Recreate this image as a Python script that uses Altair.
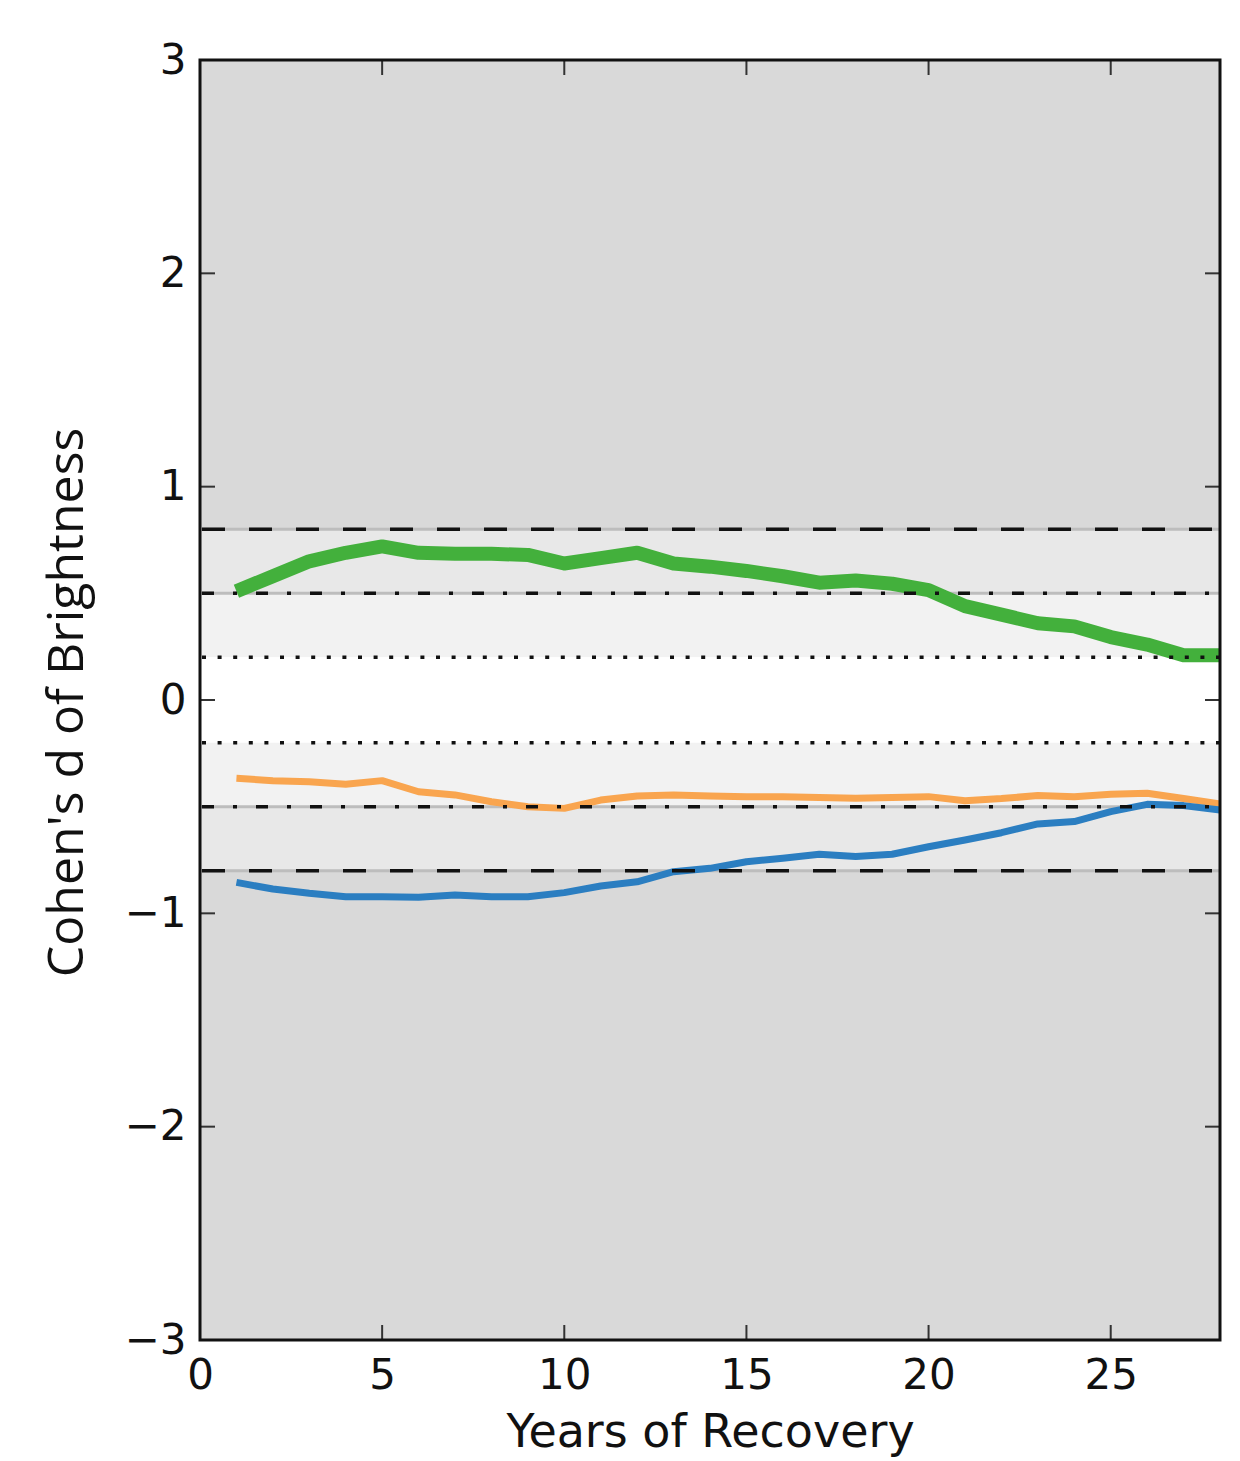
import altair as alt
import pandas as pd

years = list(range(1, 29))
green = [0.51, 0.58, 0.65, 0.69, 0.72, 0.69, 0.685, 0.685, 0.68, 0.64,
         0.665, 0.69, 0.64, 0.625, 0.605, 0.58, 0.55, 0.56, 0.545, 0.515,
         0.44, 0.40, 0.36, 0.345, 0.295, 0.26, 0.21, 0.21]
orange = [-0.367, -0.378, -0.383, -0.395, -0.378, -0.43, -0.445, -0.477, -0.50, -0.508,
          -0.469, -0.45, -0.445, -0.45, -0.453, -0.453, -0.457, -0.46, -0.457, -0.453,
          -0.472, -0.462, -0.448, -0.453, -0.442, -0.437, -0.462, -0.487]
blue = [-0.855, -0.886, -0.906, -0.922, -0.922, -0.925, -0.914, -0.922, -0.922, -0.903,
        -0.872, -0.852, -0.805, -0.789, -0.758, -0.742, -0.723, -0.734, -0.723, -0.688,
        -0.656, -0.622, -0.581, -0.570, -0.523, -0.489, -0.495, -0.516]

band_lo = [0.8, 0.5, 0.2, -0.2, -0.5, -0.8, -3.0]
band_hi = [3.0, 0.8, 0.5, 0.2, -0.2, -0.5, -0.8]
band_col = ["#d9d9d9", "#e8e8e8", "#f2f2f2", "#ffffff", "#f2f2f2", "#e8e8e8", "#d9d9d9"]

dashed_levels = [0.8, -0.8]
dashdot_levels = [0.5, -0.5]
dotted_levels = [0.2, -0.2]

x_ticks = [0, 5, 10, 15, 20, 25]
y_ticks = [-3, -2, -1, 0, 1, 2, 3]

W, H = 1020, 1280
FONT = "DejaVu Sans"

xs = alt.Scale(domain=[0, 28], nice=False, zero=False)
ys = alt.Scale(domain=[-3, 3], nice=False, zero=False)

x_axis = alt.Axis(values=x_ticks, ticks=False, domain=False, grid=False, labelFlush=False,
                  format="d",
                  labelFont=FONT, labelFontSize=42, labelColor="#111111", labelPadding=15,
                  title="Years of Recovery", titleFont=FONT, titleFontSize=46,
                  titleFontWeight="normal", titleColor="#111111", titleY=106,
                  titleBaseline="alphabetic")
y_axis = alt.Axis(values=y_ticks, ticks=False, domain=False, grid=False, labelFlush=False,
                  format="d",
                  labelFont=FONT, labelFontSize=42, labelColor="#111111", labelPadding=14,
                  title="Cohen's d of Brightness", titleFont="Open Sans", titleFontSize=50,
                  titleFontWeight="normal", titleColor="#111111", titleX=-133, titleY=642,
                  titleAngle=-90, titleAlign="center", titleBaseline="middle")

bands = pd.DataFrame({"lo": band_lo, "hi": band_hi, "col": band_col})
band_layer = alt.Chart(bands).mark_rect().encode(
    x=alt.value(0), x2=alt.value(W),
    y=alt.Y("lo:Q", scale=ys, axis=y_axis), y2="hi:Q",
    fill=alt.Fill("col:N", scale=None),
)

under_df = pd.DataFrame({"v": dashed_levels + dashdot_levels})
under_layer = alt.Chart(under_df).mark_rule(color="#bdbdbd", strokeWidth=3).encode(
    y=alt.Y("v:Q", scale=ys), x=alt.value(0), x2=alt.value(W))

dashed = alt.Chart(pd.DataFrame({"v": dashed_levels})).mark_rule(
    color="#111111", strokeWidth=3.5, strokeDash=[23, 24]).encode(
    y=alt.Y("v:Q", scale=ys), x=alt.value(2), x2=alt.value(W))
dashdot = alt.Chart(pd.DataFrame({"v": dashdot_levels})).mark_rule(
    color="#111111", strokeWidth=3.5, strokeDash=[12, 19, 4, 19]).encode(
    y=alt.Y("v:Q", scale=ys), x=alt.value(2), x2=alt.value(W))
dotted = alt.Chart(pd.DataFrame({"v": dotted_levels})).mark_rule(
    color="#111111", strokeWidth=3.5, strokeDash=[4, 11.6]).encode(
    y=alt.Y("v:Q", scale=ys), x=alt.value(2), x2=alt.value(W))

df = pd.DataFrame({
    "year": years * 3,
    "d": green + orange + blue,
    "series": ["green"] * 28 + ["orange"] * 28 + ["blue"] * 28,
})

def series_line(name, color, width):
    return alt.Chart(df).transform_filter(alt.datum.series == name).mark_line(
        color=color, strokeWidth=width, strokeJoin="round").encode(
        x=alt.X("year:Q", scale=xs, axis=x_axis),
        y=alt.Y("d:Q", scale=ys),
    )

orange_line = series_line("orange", "#f9a54f", 7)
blue_line = series_line("blue", "#2b7ec1", 7)
green_line = series_line("green", "#43b03c", 14)

xt = pd.DataFrame({"t": x_ticks})
yt = pd.DataFrame({"t": y_ticks})
tick_style = dict(color="#333333", strokeWidth=2)
bottom_ticks = alt.Chart(xt).mark_rule(**tick_style).encode(
    x=alt.X("t:Q", scale=xs), y=alt.value(H), y2=alt.value(H - 15))
top_ticks = alt.Chart(xt).mark_rule(**tick_style).encode(
    x=alt.X("t:Q", scale=xs), y=alt.value(0), y2=alt.value(15))
left_ticks = alt.Chart(yt).mark_rule(**tick_style).encode(
    y=alt.Y("t:Q", scale=ys), x=alt.value(0), x2=alt.value(15))
right_ticks = alt.Chart(yt).mark_rule(**tick_style).encode(
    y=alt.Y("t:Q", scale=ys), x=alt.value(W), x2=alt.value(W - 15))

frame = alt.Chart(pd.DataFrame({"a": [0]})).mark_rect(
    filled=False, stroke="#111111", strokeWidth=3).encode(
    x=alt.value(0), x2=alt.value(W), y=alt.value(0), y2=alt.value(H))

chart = alt.layer(
    band_layer, under_layer, orange_line, blue_line, green_line,
    dashed, dashdot, dotted,
    bottom_ticks, top_ticks, left_ticks, right_ticks, frame,
).properties(
    width=W, height=H,
    autosize=alt.AutoSizeParams(type="none"),
    padding={"left": 200, "top": 60, "right": 20, "bottom": 121},
).configure_view(stroke=None).configure(background="white")

chart.save("out.html", embed_options={"renderer": "svg", "actions": False})
